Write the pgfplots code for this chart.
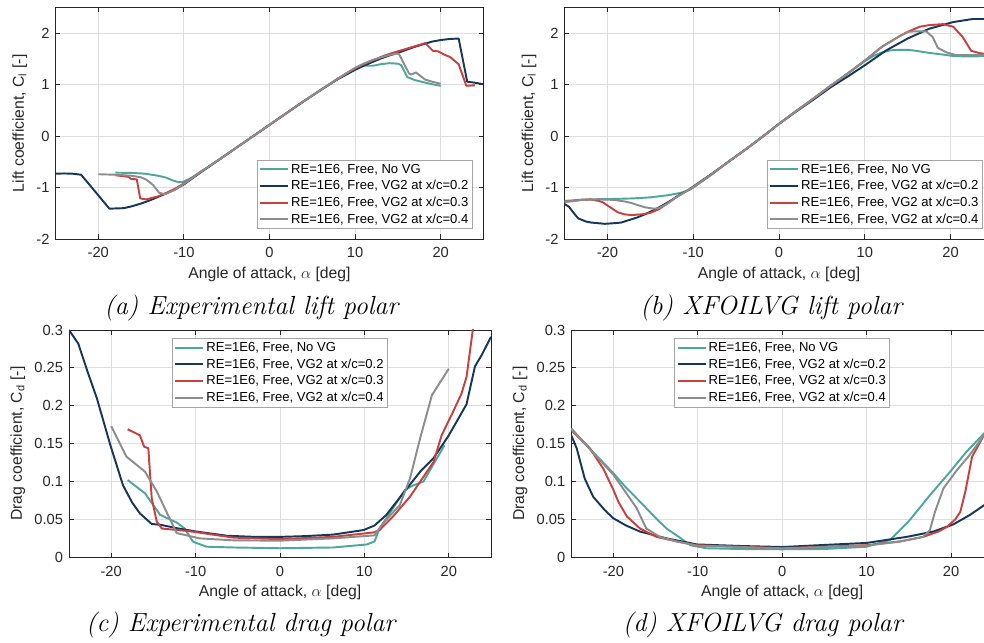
\documentclass[border=0pt]{standalone}
\usepackage{fontspec}
\usepackage{pgfplots}
\pgfplotsset{compat=1.18}
\newfontfamily\arial{Liberation Sans}
\definecolor{cteal}{RGB}{77,168,155}
\definecolor{cnavy}{RGB}{20,55,90}
\definecolor{cred}{RGB}{200,64,64}
\definecolor{cgray}{RGB}{140,140,140}
\definecolor{gridc}{RGB}{222,222,222}
\definecolor{axc}{RGB}{38,38,38}
\definecolor{legc}{RGB}{165,165,165}
\pgfplotsset{
  matlab/.style={
    scale only axis,
    xmin=-25, xmax=25,
    xtick={-20,-10,0,10,20},
    xticklabels={-20,-10,0,10,20},
    font=\arial\fontsize{11}{13}\selectfont,
    tick label style={font=\arial\fontsize{11}{13}\selectfont},
    label style={font=\arial\fontsize{11.8}{14}\selectfont, color=axc},
    /pgf/number format/assume math mode=true,
    grid=major,
    grid style={color=gridc, line width=0.6pt},
    axis line style={color=axc, line width=0.6pt},
    tick style={color=axc, line width=0.6pt},
    major tick length=3.5pt,
    tick align=inside,
    xtick pos=both, ytick pos=both,
    xticklabel style={yshift=-3pt, color=axc},
    yticklabel style={xshift=-1pt, color=axc},
    xlabel={Angle of attack, $\alpha$ [deg]},
    every axis plot/.append style={line width=1.45pt, line join=round},
    legend cell align=left,
    legend image code/.code={\draw[#1, line width=1.5pt] (0pt,0pt) -- (21pt,0pt);},
    legend style={draw=legc, line width=0.6pt, fill=white,
      font=\arial\fontsize{9.8}{11.5}\selectfont,
      inner xsep=1.5pt, inner ysep=1.2pt, row sep=0.9pt,
      nodes={inner xsep=1.5pt, inner ysep=1.5pt}},
  },
  lift/.style={matlab, ymin=-2, ymax=2.5, ytick={-2,-1,0,1,2}, yticklabels={-2,-1,0,1,2},
    ylabel={Lift coefficient, C\textsubscript{l} [-]},
    legend style={at={(0.975,0.043)}, anchor=south east}},
  drag/.style={matlab, ymin=0, ymax=0.3, ytick={0,0.05,0.1,0.15,0.2,0.25,0.3},
    yticklabels={0,0.05,0.1,0.15,0.2,0.25,0.3},
    ylabel={Drag coefficient, C\textsubscript{d} [-]},
    legend style={at={(0.5,0.9635)}, anchor=north}},
}
\newcommand{\legs}{\legend{{RE=1E6, Free, No VG},{RE=1E6, Free, VG2 at x/c=0.2},{RE=1E6, Free, VG2 at x/c=0.3},{RE=1E6, Free, VG2 at x/c=0.4}}}
\begin{document}
\begin{tikzpicture}
% ---------------- (a) ----------------
\begin{axis}[lift, at={(41.6pt,302.25pt)}, anchor=south west, width=321pt, height=173.5pt]
\addplot[cteal] coordinates {(-18,-0.71)(-16,-0.715)(-14.5,-0.73)(-13,-0.77)(-12.2,-0.80)(-11.3,-0.86)(-10.6,-0.895)(-10.1,-0.89)(-9,-0.80)(-8,-0.69)(-6,-0.47)(-4,-0.24)(-2,-0.01)(0,0.22)(2,0.45)(4,0.68)(6,0.90)(8,1.12)(10,1.32)(11,1.37)(12.1,1.37)(13,1.40)(14,1.42)(15,1.41)(15.4,1.38)(16.1,1.15)(17,1.09)(18,1.05)(19,1.01)(20,0.98)};
\addplot[cnavy] coordinates {(-25,-0.73)(-24,-0.725)(-23,-0.73)(-22,-0.75)(-18.7,-1.41)(-17,-1.40)(-16,-1.36)(-15,-1.31)(-14,-1.25)(-13,-1.18)(-12,-1.11)(-11,-1.03)(-10,-0.94)(-9,-0.82)(-8,-0.70)(-6,-0.47)(-4,-0.24)(-2,-0.01)(0,0.22)(2,0.45)(4,0.68)(6,0.90)(8,1.11)(10,1.29)(11,1.37)(12,1.44)(13,1.51)(14,1.57)(15,1.62)(16,1.68)(17,1.74)(18,1.79)(19,1.84)(20,1.87)(21,1.89)(22.1,1.90)(23.1,1.06)(24,1.04)(25,1.01)};
\addplot[cred] coordinates {(-18,-0.76)(-17,-0.78)(-16.5,-0.79)(-16.2,-0.83)(-15.5,-0.84)(-15.1,-1.21)(-14.4,-1.23)(-13,-1.17)(-12,-1.10)(-11,-1.02)(-10,-0.92)(-8,-0.69)(-6,-0.47)(-4,-0.24)(-2,-0.01)(0,0.22)(2,0.45)(4,0.68)(6,0.90)(8,1.12)(10,1.32)(11,1.40)(12,1.47)(13,1.54)(14,1.60)(15,1.65)(16,1.70)(17,1.75)(18.2,1.81)(19.1,1.66)(19.7,1.65)(20.5,1.58)(21.1,1.54)(22.1,1.40)(23.0,0.98)(24,0.99)};
\addplot[cgray] coordinates {(-20,-0.74)(-18,-0.75)(-16.1,-0.77)(-15,-0.80)(-14.35,-0.85)(-13.6,-0.95)(-12.9,-1.10)(-12.2,-1.13)(-11.05,-1.045)(-10,-0.93)(-8,-0.69)(-6,-0.47)(-4,-0.24)(-2,-0.01)(0,0.22)(2,0.45)(4,0.68)(6,0.90)(8,1.12)(10,1.33)(11,1.41)(12,1.48)(13,1.53)(14,1.58)(15.1,1.61)(16.3,1.22)(16.6,1.20)(17.1,1.24)(18.2,1.10)(19,1.06)(20,1.02)};
\legs
\end{axis}
% ---------------- (b) ----------------
\begin{axis}[lift, at={(423.4pt,302.25pt)}, anchor=south west, width=321.75pt, height=173.5pt]
\addplot[cteal] coordinates {(-25,-1.26)(-23,-1.235)(-21,-1.225)(-19,-1.22)(-17,-1.21)(-15,-1.19)(-14,-1.17)(-13,-1.15)(-12,-1.12)(-11.4,-1.10)(-10.5,-1.05)(-10,-1.00)(-8,-0.76)(-6,-0.51)(-4,-0.27)(-2,-0.02)(0,0.24)(2,0.49)(4,0.73)(6,0.98)(8,1.22)(10,1.46)(11,1.56)(12,1.63)(13,1.67)(14,1.68)(15,1.68)(16,1.66)(17.5,1.62)(19,1.59)(20.3,1.56)(22,1.55)(25,1.56)};
\addplot[cnavy] coordinates {(-25,-1.32)(-24.5,-1.37)(-24,-1.48)(-23.4,-1.60)(-22.5,-1.66)(-21.9,-1.68)(-20.3,-1.705)(-19,-1.69)(-18.4,-1.68)(-16.5,-1.58)(-15.5,-1.51)(-14.5,-1.43)(-13.5,-1.34)(-12.5,-1.24)(-11.5,-1.13)(-10.5,-1.04)(-10,-0.98)(-8,-0.75)(-6,-0.51)(-4,-0.27)(-2,-0.02)(0,0.24)(2,0.48)(4,0.71)(6,0.95)(8,1.16)(10,1.38)(12.5,1.67)(15,1.90)(17.5,2.09)(20.3,2.22)(22.6,2.28)(25,2.28)};
\addplot[cred] coordinates {(-25,-1.28)(-23,-1.24)(-22,-1.23)(-21,-1.26)(-20.5,-1.29)(-19.8,-1.37)(-18.8,-1.48)(-18,-1.52)(-17.2,-1.535)(-16,-1.52)(-15,-1.49)(-14,-1.42)(-13,-1.31)(-12,-1.19)(-11,-1.09)(-10,-0.99)(-8,-0.76)(-6,-0.51)(-4,-0.27)(-2,-0.02)(0,0.24)(2,0.49)(4,0.73)(6,0.98)(8,1.22)(10,1.47)(12,1.74)(13,1.84)(14,1.94)(15,2.03)(16.4,2.13)(17.5,2.16)(19.1,2.18)(20.3,2.13)(21.4,1.93)(22.4,1.66)(23.5,1.61)(25,1.60)};
\addplot[cgray] coordinates {(-25,-1.28)(-23,-1.24)(-21,-1.23)(-19.2,-1.24)(-18,-1.27)(-17.2,-1.30)(-16.5,-1.34)(-15.7,-1.38)(-15,-1.40)(-14.5,-1.41)(-14,-1.40)(-13,-1.31)(-12,-1.19)(-11,-1.09)(-10,-0.99)(-8,-0.76)(-6,-0.51)(-4,-0.27)(-2,-0.02)(0,0.24)(2,0.49)(4,0.73)(6,0.98)(8,1.22)(10,1.47)(12,1.74)(13,1.84)(14,1.94)(15,2.03)(16,2.04)(17.15,2.04)(17.9,1.93)(18.5,1.72)(19.5,1.63)(20.6,1.58)(22,1.575)(25,1.58)};
\legs
\end{axis}
% ---------------- (c) ----------------
\begin{axis}[drag, at={(51.75pt,63.5pt)}, anchor=south west, width=316.5pt, height=170.5pt]
\addplot[cteal] coordinates {(-18.05,0.102)(-16,0.0845)(-14.2,0.056)(-12.25,0.046)(-11.3,0.038)(-10.3,0.0206)(-8.7,0.014)(-5.5,0.013)(0,0.012)(6.3,0.013)(10.3,0.017)(11.2,0.021)(11.8,0.038)(13.4,0.065)(14.8,0.089)(15.8,0.095)(17,0.100)(18.6,0.131)(19.5,0.148)};
\addplot[cnavy] coordinates {(-25,0.300)(-23.9,0.282)(-22.8,0.245)(-21.7,0.21)(-20.1,0.148)(-18.6,0.095)(-17.5,0.072)(-16.6,0.058)(-15.2,0.044)(-14.2,0.043)(-12,0.038)(-9.9,0.034)(-6.3,0.0285)(-3,0.027)(0,0.027)(3,0.028)(6.3,0.030)(9.9,0.036)(11.2,0.042)(12.6,0.056)(14.2,0.079)(16.6,0.113)(18.2,0.131)(20,0.161)(22.1,0.202)(23.1,0.252)(23.9,0.267)(25,0.291)};
\addplot[cred] coordinates {(-18.05,0.169)(-16.6,0.161)(-16.1,0.146)(-15.6,0.144)(-15.2,0.078)(-14.6,0.047)(-14.0,0.038)(-10.9,0.0347)(-5.5,0.026)(0,0.024)(6.3,0.027)(11.2,0.033)(11.8,0.036)(13.4,0.054)(15.4,0.080)(18.2,0.126)(19.15,0.161)(20.5,0.192)(21.5,0.216)(22.1,0.238)(23.2,0.33)};
\addplot[cgray] coordinates {(-20,0.173)(-18.2,0.133)(-16,0.113)(-14.6,0.087)(-12.25,0.032)(-9.5,0.025)(-5.5,0.0224)(0,0.022)(6.3,0.025)(11.2,0.029)(12.2,0.045)(14.2,0.069)(15.4,0.104)(16.6,0.157)(18,0.214)(20,0.249)};
\legs
\end{axis}
% ---------------- (d) ----------------
\begin{axis}[drag, at={(428.4pt,63.5pt)}, anchor=south west, width=316.5pt, height=170.5pt]
\addplot[cteal] coordinates {(-25,0.170)(-22.5,0.140)(-20,0.111)(-18.5,0.092)(-16.85,0.0735)(-15,0.052)(-13.7,0.038)(-12,0.025)(-10.9,0.016)(-9,0.012)(-5,0.011)(0,0.0106)(5,0.011)(10,0.014)(12.8,0.023)(15.1,0.049)(17.5,0.082)(19.9,0.113)(21.8,0.139)(25,0.176)};
\addplot[cnavy] coordinates {(-25,0.161)(-24.35,0.144)(-23.4,0.104)(-22.4,0.080)(-21,0.062)(-20,0.0515)(-18.5,0.042)(-16.85,0.034)(-13.7,0.025)(-10.1,0.017)(-5,0.015)(0,0.0136)(4.9,0.0163)(10,0.019)(14.75,0.027)(17.9,0.034)(20.3,0.0436)(22.25,0.056)(25,0.077)};
\addplot[cred] coordinates {(-25,0.168)(-22.8,0.144)(-21.2,0.117)(-20,0.089)(-19.4,0.073)(-18.4,0.054)(-16.85,0.038)(-14.9,0.027)(-12.5,0.021)(-10.1,0.016)(0,0.0119)(10,0.016)(14,0.021)(16.7,0.027)(18.5,0.034)(19.5,0.040)(20.5,0.050)(21.1,0.060)(21.7,0.087)(22.5,0.133)(23.9,0.161)(25,0.175)};
\addplot[cgray] coordinates {(-25,0.170)(-22.5,0.139)(-20,0.109)(-18.5,0.085)(-17.25,0.065)(-16.1,0.038)(-14.5,0.027)(-12.5,0.021)(-10.1,0.0154)(0,0.0119)(10,0.0154)(14,0.021)(16.7,0.027)(17.5,0.036)(18.1,0.060)(19.1,0.091)(20.7,0.115)(22.2,0.135)(23.9,0.161)(25,0.172)};
\legs
\end{axis}
% captions
\node[font=\fontsize{19.6}{23}\selectfont\itshape] at (188.5pt,250.5pt) {(a) Experimental lift polar};
\node[font=\fontsize{19.6}{23}\selectfont\itshape] at (578.5pt,250.5pt) {(b) XFOILVG lift polar};
\node[font=\fontsize{19.6}{23}\selectfont\itshape] at (180.5pt,12.75pt) {(c) Experimental drag polar};
\node[font=\fontsize{19.6}{23}\selectfont\itshape] at (572pt,12.75pt) {(d) XFOILVG drag polar};
\pgfresetboundingbox
\useasboundingbox (0,0) rectangle (738pt,481.5pt);
\end{tikzpicture}
\end{document}
